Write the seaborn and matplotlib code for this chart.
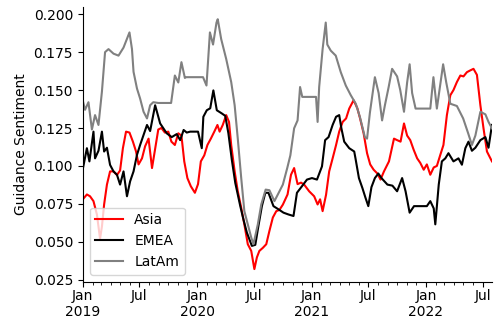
import matplotlib
matplotlib.use("Agg")
import matplotlib.pyplot as plt
import matplotlib.dates as mdates
from matplotlib.ticker import FuncFormatter, MultipleLocator, NullFormatter
import seaborn as sns
import pandas as pd

regions = ["Asia", "EMEA", "LatAm"]
colors = ["red", "black", "grey"]

asia_dates = [
    "2019-01-01", "2019-01-14", "2019-01-24", "2019-02-04", "2019-02-15", "2019-02-25", "2019-03-03",
    "2019-03-10", "2019-03-19", "2019-03-29", "2019-04-09", "2019-04-20", "2019-04-30", "2019-05-09",
    "2019-05-19", "2019-05-30", "2019-06-10", "2019-06-20", "2019-06-28", "2019-07-09", "2019-07-19",
    "2019-07-30", "2019-08-10", "2019-08-19", "2019-08-30", "2019-09-09", "2019-09-20", "2019-10-01",
    "2019-10-11", "2019-10-22", "2019-11-02", "2019-11-12", "2019-11-21", "2019-12-01", "2019-12-12",
    "2019-12-25", "2020-01-04", "2020-01-13", "2020-01-24", "2020-02-03", "2020-02-14", "2020-02-25",
    "2020-03-06", "2020-03-13", "2020-03-23", "2020-04-03", "2020-04-12", "2020-04-19", "2020-04-30",
    "2020-05-10", "2020-05-21", "2020-05-31", "2020-06-11", "2020-06-22", "2020-07-02", "2020-07-10",
    "2020-07-18", "2020-07-29", "2020-08-09", "2020-08-19", "2020-08-30", "2020-09-10", "2020-09-20",
    "2020-10-01", "2020-10-16", "2020-10-27", "2020-11-06", "2020-11-17", "2020-11-28", "2020-12-08",
    "2020-12-24", "2021-01-09", "2021-01-20", "2021-01-28", "2021-02-05", "2021-02-16", "2021-02-26",
    "2021-03-09", "2021-03-20", "2021-03-30", "2021-04-10", "2021-04-21", "2021-05-01", "2021-05-15",
    "2021-05-27", "2021-06-05", "2021-06-16", "2021-06-27", "2021-07-07", "2021-07-18", "2021-07-30",
    "2021-08-09", "2021-08-20", "2021-09-05", "2021-09-21", "2021-10-01", "2021-10-12", "2021-10-23",
    "2021-11-02", "2021-11-12", "2021-11-23", "2021-12-04", "2021-12-14", "2021-12-25", "2022-01-04",
    "2022-01-15", "2022-01-26", "2022-02-05", "2022-02-16", "2022-02-26", "2022-03-09", "2022-03-20",
    "2022-03-30", "2022-04-10", "2022-04-21", "2022-05-01", "2022-05-12", "2022-05-23", "2022-06-02",
    "2022-06-13", "2022-06-24", "2022-07-04", "2022-07-15", "2022-07-26", "2022-07-31",
]
asia_values = [
    0.078, 0.0812, 0.080, 0.0768, 0.068, 0.052, 0.060,
    0.0746, 0.0877, 0.0964, 0.0964, 0.094, 0.097, 0.1117,
    0.1226, 0.122, 0.116, 0.1095, 0.101, 0.105, 0.113,
    0.118, 0.0986, 0.110, 0.124, 0.125, 0.122, 0.1226,
    0.116, 0.1138, 0.1215, 0.120, 0.103, 0.092, 0.0866,
    0.0823, 0.088, 0.103, 0.107, 0.1138, 0.118, 0.1226,
    0.127, 0.1226, 0.127, 0.1335, 0.129, 0.1138, 0.0964,
    0.0833, 0.0724, 0.0615, 0.0484, 0.044, 0.032, 0.0397,
    0.044, 0.046, 0.0484, 0.0571, 0.066, 0.0702, 0.071,
    0.0745, 0.0812, 0.0942, 0.0986, 0.088, 0.089, 0.0877,
    0.0833, 0.080, 0.0746, 0.078, 0.0702, 0.081, 0.0964,
    0.105, 0.1138, 0.1226, 0.129, 0.1313, 0.1378, 0.1433,
    0.138, 0.131, 0.1215, 0.1084, 0.101, 0.0975, 0.095,
    0.091, 0.0964, 0.103, 0.118, 0.117, 0.116, 0.128,
    0.120, 0.117, 0.1106, 0.105, 0.102, 0.0975, 0.101,
    0.0942, 0.099, 0.100, 0.1073, 0.1138, 0.1335, 0.1466,
    0.150, 0.1553, 0.1596, 0.159, 0.1618, 0.163, 0.164,
    0.160, 0.140, 0.1248, 0.1095, 0.105, 0.103,
]

emea_dates = [
    "2019-01-01", "2019-01-14", "2019-01-22", "2019-02-04", "2019-02-09", "2019-02-20", "2019-03-03",
    "2019-03-10", "2019-03-19", "2019-03-29", "2019-04-09", "2019-04-20", "2019-04-30", "2019-05-11",
    "2019-05-22", "2019-06-01", "2019-06-12", "2019-06-23", "2019-07-03", "2019-07-14", "2019-07-25",
    "2019-08-04", "2019-08-20", "2019-09-05", "2019-09-26", "2019-10-12", "2019-10-28", "2019-11-08",
    "2019-11-19", "2019-11-29", "2019-12-10", "2020-01-04", "2020-01-16", "2020-01-21", "2020-02-01",
    "2020-02-12", "2020-02-22", "2020-03-04", "2020-03-20", "2020-03-31", "2020-04-10", "2020-04-21",
    "2020-05-02", "2020-05-18", "2020-05-28", "2020-06-08", "2020-06-24", "2020-07-05", "2020-07-15",
    "2020-07-26", "2020-08-06", "2020-08-16", "2020-09-01", "2020-09-17", "2020-10-03", "2020-10-19",
    "2020-11-04", "2020-11-15", "2020-12-01", "2020-12-17", "2021-01-02", "2021-01-18", "2021-02-03",
    "2021-02-13", "2021-02-24", "2021-03-09", "2021-03-20", "2021-03-30", "2021-04-06", "2021-04-15",
    "2021-05-01", "2021-05-17", "2021-05-21", "2021-06-01", "2021-06-12", "2021-06-22", "2021-07-01",
    "2021-07-11", "2021-07-22", "2021-08-02", "2021-08-12", "2021-08-31", "2021-09-16", "2021-10-01",
    "2021-10-17", "2021-10-28", "2021-11-10", "2021-11-24", "2022-01-04", "2022-01-15", "2022-01-26",
    "2022-01-31", "2022-02-11", "2022-02-21", "2022-03-04", "2022-03-14", "2022-03-30", "2022-04-15",
    "2022-04-26", "2022-05-07", "2022-05-17", "2022-05-28", "2022-06-08", "2022-06-24", "2022-07-10",
    "2022-07-20", "2022-07-31",
]
emea_values = [
    0.098, 0.1117, 0.103, 0.1226, 0.105, 0.110, 0.1226,
    0.1095, 0.112, 0.1007, 0.0964, 0.0942, 0.0877, 0.0964,
    0.080, 0.0898, 0.0964, 0.1073, 0.1138, 0.1204, 0.127,
    0.123, 0.140, 0.128, 0.1215, 0.119, 0.121, 0.117,
    0.1237, 0.122, 0.1226, 0.1226, 0.1117, 0.1324, 0.1367,
    0.138, 0.1498, 0.1367, 0.1346, 0.133, 0.1215, 0.104,
    0.0888, 0.0735, 0.0648, 0.0561, 0.0473, 0.048, 0.0605,
    0.0735, 0.0823, 0.0823, 0.0735, 0.0714, 0.0692, 0.068,
    0.067, 0.0823, 0.0866, 0.091, 0.092, 0.091, 0.0997,
    0.117, 0.119, 0.127, 0.1324, 0.1335, 0.1248, 0.116,
    0.1117, 0.1095, 0.105, 0.092, 0.0855, 0.079, 0.0735,
    0.086, 0.092, 0.095, 0.092, 0.0877, 0.087, 0.0833,
    0.092, 0.0833, 0.0692, 0.0735, 0.0735, 0.0768, 0.072,
    0.0615, 0.0877, 0.103, 0.105, 0.1084, 0.103, 0.105,
    0.1008, 0.1117, 0.116, 0.110, 0.112, 0.117, 0.119,
    0.112, 0.127,
]

latam_dates = [
    "2019-01-01", "2019-01-08", "2019-01-19", "2019-01-30", "2019-02-09", "2019-02-20", "2019-03-03",
    "2019-03-13", "2019-03-24", "2019-04-09", "2019-04-25", "2019-05-11", "2019-05-30", "2019-06-07",
    "2019-06-12", "2019-06-23", "2019-07-03", "2019-07-14", "2019-07-25", "2019-08-04", "2019-08-14",
    "2019-08-30", "2019-10-10", "2019-10-22", "2019-11-02", "2019-11-12", "2019-11-23", "2019-11-27",
    "2020-01-20", "2020-01-31", "2020-02-11", "2020-02-21", "2020-03-03", "2020-03-07", "2020-03-18",
    "2020-04-03", "2020-04-19", "2020-04-30", "2020-05-10", "2020-05-21", "2020-05-31", "2020-06-11",
    "2020-06-22", "2020-06-29", "2020-07-13", "2020-07-24", "2020-08-07", "2020-08-19", "2020-09-04",
    "2020-09-15", "2020-10-01", "2020-10-15", "2020-10-25", "2020-11-06", "2020-11-17", "2020-11-25",
    "2020-12-02", "2021-01-15", "2021-01-20", "2021-01-25", "2021-02-05", "2021-02-15", "2021-02-20",
    "2021-03-03", "2021-03-19", "2021-04-04", "2021-04-20", "2021-05-06", "2021-05-22", "2021-06-04",
    "2021-06-20", "2021-06-27", "2021-07-06", "2021-07-22", "2021-08-03", "2021-08-14", "2021-08-23",
    "2021-09-04", "2021-09-15", "2021-10-01", "2021-10-11", "2021-10-23", "2021-11-02", "2021-11-10",
    "2021-11-18", "2021-11-29", "2022-01-15", "2022-01-25", "2022-02-05", "2022-02-25", "2022-03-07",
    "2022-03-20", "2022-04-10", "2022-04-30", "2022-05-16", "2022-05-28", "2022-06-08", "2022-06-24",
    "2022-07-10", "2022-07-20", "2022-07-31",
]
latam_values = [
    0.143, 0.137, 0.142, 0.124, 0.1335, 0.127, 0.149,
    0.175, 0.177, 0.174, 0.1727, 0.178, 0.188, 0.177,
    0.162, 0.151, 0.1444, 0.1357, 0.1313, 0.140, 0.142,
    0.1415, 0.1415, 0.1596, 0.155, 0.1684, 0.158, 0.1585,
    0.1585, 0.153, 0.188, 0.180, 0.1945, 0.1967, 0.1836,
    0.1705, 0.1553, 0.140, 0.118, 0.092, 0.0702, 0.0615,
    0.0528, 0.0484, 0.0615, 0.0746, 0.0844, 0.084, 0.0768,
    0.0812, 0.0877, 0.0986, 0.107, 0.1248, 0.130, 0.152,
    0.1455, 0.1455, 0.129, 0.152, 0.177, 0.1945, 0.180,
    0.176, 0.1727, 0.1618, 0.153, 0.1466, 0.141, 0.1324,
    0.119, 0.118, 0.135, 0.1585, 0.148, 0.130, 0.140,
    0.152, 0.164, 0.159, 0.150, 0.1357, 0.155, 0.167,
    0.148, 0.1378, 0.1378, 0.1585, 0.1378, 0.167, 0.155,
    0.141, 0.1395, 0.1313, 0.1215, 0.1138, 0.120, 0.1357,
    0.134, 0.129, 0.1248,
]

series = {
    "Asia": (asia_dates, asia_values),
    "EMEA": (emea_dates, emea_values),
    "LatAm": (latam_dates, latam_values),
}

fig, ax = plt.subplots(figsize=(5.02, 3.2), dpi=100)
fig.subplots_adjust(left=0.165, right=0.98, bottom=0.12, top=0.979)

all_dates = []
for region, color in zip(regions, colors):
    dates, values = series[region]
    df = pd.DataFrame({"date": pd.to_datetime(dates), "value": values})
    all_dates.extend(df["date"])
    sns.lineplot(data=df, x="date", y="value", color=color, label=region, linewidth=1.5, ax=ax)

ax.set_xlim(min(all_dates), max(all_dates))
ax.yaxis.set_major_locator(MultipleLocator(0.025))


def month_label(x, pos):
    d = mdates.num2date(x)
    if d.month == 1:
        return "Jan\n%d" % d.year
    return d.strftime("%b")


ax.xaxis.set_major_locator(mdates.MonthLocator(bymonth=[1, 7]))
ax.xaxis.set_major_formatter(FuncFormatter(month_label))
ax.xaxis.set_minor_locator(mdates.MonthLocator())
ax.xaxis.set_minor_formatter(NullFormatter())
ax.tick_params(axis="x", which="major", pad=2)

ax.set_xlabel("")
ax.set_ylabel("Guidance Sentiment")
ax.legend(loc="lower left")
sns.despine()

plt.savefig("out.png")
plt.close()
